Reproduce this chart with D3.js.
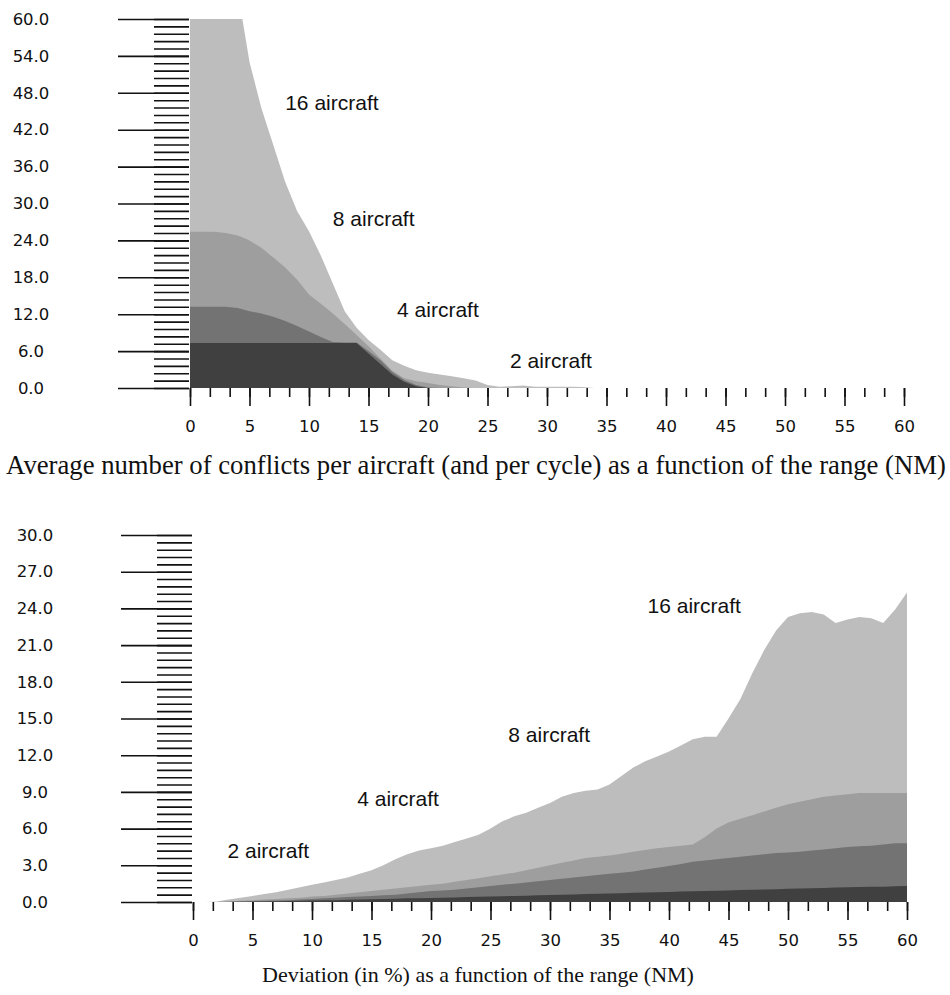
<!DOCTYPE html>
<html>
<head>
<meta charset="utf-8">
<script src="https://cdn.jsdelivr.net/npm/d3@7"></script>
<style>
  body { margin: 0; background: #fff; }
  .tick text { font-family: "DejaVu Sans", sans-serif; font-size: 16.5px; fill: #111; }
  .tick line { stroke: #111; stroke-width: 1.6; }
  .series-label { font-family: "Liberation Sans", Arial, sans-serif; font-size: 21px; fill: #111; }
  .caption { font-family: "Liberation Serif", "Times New Roman", serif; fill: #111; }
</style>
</head>
<body>
<script>
// ---- data: range (NM) on x ----
const seriesNames = ["16 aircraft", "8 aircraft", "4 aircraft", "2 aircraft"];
const fills = ["#bdbdbd", "#9e9e9e", "#737373", "#404040"];

const xTicks = [0, 5, 10, 15, 20, 25, 30, 35, 40, 45, 50, 55, 60];
const xMinorStep = 5 / 3;

// top chart: average conflicts per aircraft
const topRange = [0,1,2,3,4,4.4,5,6,7,8,9,10,11,12,13,14,15,16,17,18,19,20,21,22,23,24,25,26,27,28,29,30,31,32,33,34];
const conflicts16 = [60,60,60,60,60,60,53,45.5,39.5,33.5,28.8,25.5,21.5,17,12.5,9.8,7.8,6.2,4.5,3.6,2.9,2.5,2.2,1.9,1.6,1.2,0.5,0.2,0.3,0.4,0.2,0.2,0.2,0.2,0.15,0];
const conflicts8 = [25.4,25.4,25.4,25.2,24.8,24.5,24,22.8,21.2,19.6,17.6,15.2,13.7,12.1,10.4,8.6,6.8,4.8,2.8,1.6,1.1,0.8,0.5,0.3,0.1,0,0,0,0,0,0,0,0,0,0,0];
const conflicts4 = [13.2,13.2,13.2,13.2,13,12.8,12.5,12.1,11.6,10.9,10.1,9.2,8.3,7.5,7.4,7.4,6,4.5,2.6,1.3,0.5,0.1,0,0,0,0,0,0,0,0,0,0,0,0,0,0];
const conflicts2 = [7.3,7.3,7.3,7.3,7.3,7.3,7.3,7.3,7.3,7.3,7.3,7.3,7.3,7.3,7.3,7.3,5.6,3.9,2.2,1,0.3,0,0,0,0,0,0,0,0,0,0,0,0,0,0,0];
const topYTicks = [0, 6, 12, 18, 24, 30, 36, 42, 48, 54, 60];
const topYMinorStep = 1.2;

// bottom chart: deviation (%)
const bottomRange = d3.range(0, 61);
const deviation16 = [0,0,0.05,0.2,0.35,0.5,0.65,0.8,1,1.2,1.4,1.6,1.8,2,2.3,2.6,3,3.5,3.9,4.2,4.4,4.6,4.9,5.2,5.5,6,6.6,7,7.3,7.7,8.1,8.6,8.9,9.1,9.2,9.6,10.3,11,11.5,11.9,12.3,12.8,13.3,13.5,13.5,15,16.6,18.7,20.6,22.2,23.3,23.6,23.7,23.5,22.8,23.1,23.3,23.2,22.8,23.9,25.3];
const deviation8 = [0,0,0,0.05,0.1,0.15,0.2,0.25,0.3,0.35,0.45,0.5,0.6,0.7,0.8,0.9,1,1.1,1.2,1.3,1.4,1.5,1.65,1.8,1.95,2.1,2.25,2.4,2.6,2.8,3,3.2,3.4,3.6,3.7,3.8,3.95,4.1,4.25,4.4,4.5,4.6,4.7,5.3,6,6.5,6.8,7.1,7.4,7.7,8,8.2,8.4,8.6,8.7,8.8,8.9,8.9,8.9,8.9,8.9];
const deviation4 = [0,0,0,0.02,0.05,0.08,0.1,0.12,0.15,0.2,0.25,0.3,0.35,0.4,0.45,0.5,0.55,0.6,0.7,0.8,0.9,0.95,1,1.1,1.2,1.3,1.4,1.5,1.6,1.7,1.8,1.9,2,2.1,2.2,2.3,2.4,2.5,2.65,2.8,2.95,3.1,3.3,3.4,3.5,3.6,3.7,3.8,3.9,4,4.05,4.1,4.2,4.3,4.4,4.5,4.55,4.6,4.7,4.8,4.8];
const deviation2 = [0,0,0,0,0.02,0.03,0.05,0.06,0.08,0.1,0.12,0.14,0.15,0.18,0.2,0.22,0.25,0.27,0.3,0.3,0.32,0.35,0.37,0.4,0.42,0.45,0.47,0.5,0.52,0.55,0.57,0.6,0.62,0.65,0.67,0.7,0.72,0.75,0.78,0.8,0.82,0.85,0.88,0.9,0.92,0.95,0.98,1,1.02,1.05,1.08,1.1,1.12,1.15,1.18,1.2,1.22,1.25,1.25,1.28,1.3];
const bottomYTicks = [0, 3, 6, 9, 12, 15, 18, 21, 24, 27, 30];
const bottomYMinorStep = 0.6;

// label anchors, in data units (range NM, value)
const topLabelAt = [[8.0, 45.2], [12.0, 26.3], [17.4, 11.5], [26.9, 3.25]];
const bottomLabelAt = [[38.2, 23.6], [26.5, 13.1], [13.8, 7.85], [2.9, 3.6]];

const topCaption = "Average number of conflicts per aircraft (and per cycle) as a function of the range (NM)";
const bottomCaption = "Deviation (in %) as a function of the range (NM)";

const svg = d3.select("body").append("svg")
    .attr("width", 950)
    .attr("height", 995);

function drawPanel(cfg) {
  const x = d3.scaleLinear().domain([0, 60]).range([cfg.left, cfg.right]);
  const y = d3.scaleLinear().domain([0, cfg.yMax]).range([cfg.bottom, cfg.top]);
  const g = svg.append("g");

  // areas: tallest (lightest) behind, each drawn from zero
  const area = d3.area()
      .x((d) => x(d[0]))
      .y0(y(0))
      .y1((d) => y(d[1]));

  cfg.series.forEach((vals, i) => {
    g.append("path")
        .attr("fill", fills[i])
        .attr("d", area(cfg.range.map((r, j) => [r, vals[j]])));
  });

  // y axis: long major ticks with labels, short minor ticks
  const yAxisX = cfg.left - 1;
  const yMajor = g.append("g")
      .attr("transform", `translate(${yAxisX},0)`)
      .call(d3.axisLeft(y).tickValues(cfg.yTicks).tickSize(71).tickFormat(d3.format(".1f")));
  yMajor.select(".domain").remove();
  yMajor.selectAll(".tick text")
      .attr("x", cfg.yLabelX - yAxisX)
      .attr("text-anchor", "middle");

  const yMinor = g.append("g")
      .attr("transform", `translate(${yAxisX},0)`)
      .call(d3.axisLeft(y).tickValues(d3.range(0, cfg.yMax + 0.001, cfg.yMinorStep)).tickSize(35).tickFormat(""));
  yMinor.select(".domain").remove();

  // x axis
  const xMajor = g.append("g")
      .attr("transform", `translate(0,${cfg.bottom})`)
      .call(d3.axisBottom(x).tickValues(xTicks).tickSize(18).tickPadding(14).tickFormat(d3.format("d")));
  xMajor.select(".domain").remove();

  const xMinor = g.append("g")
      .attr("transform", `translate(0,${cfg.bottom})`)
      .call(d3.axisBottom(x).tickValues(d3.range(0, 60.001, xMinorStep)).tickSize(9).tickFormat(""));
  xMinor.select(".domain").remove();

  // series labels
  g.selectAll("text.series-label")
      .data(seriesNames)
      .join("text")
      .attr("class", "series-label")
      .attr("x", (d, i) => x(cfg.labelAt[i][0]))
      .attr("y", (d, i) => y(cfg.labelAt[i][1]))
      .text((d) => d);

  // caption
  g.append("text")
      .attr("class", "caption")
      .attr("x", cfg.captionX)
      .attr("y", cfg.captionY)
      .attr("text-anchor", "middle")
      .attr("font-size", cfg.captionSize)
      .text(cfg.caption);
}

drawPanel({
  left: 190, right: 904, top: 19, bottom: 388, yMax: 60,
  range: topRange,
  series: [conflicts16, conflicts8, conflicts4, conflicts2],
  yTicks: topYTicks, yMinorStep: topYMinorStep, yLabelX: 31,
  labelAt: topLabelAt,
  caption: topCaption, captionX: 476, captionY: 474, captionSize: 26.7
});

drawPanel({
  left: 193, right: 907, top: 535, bottom: 902, yMax: 30,
  range: bottomRange,
  series: [deviation16, deviation8, deviation4, deviation2],
  yTicks: bottomYTicks, yMinorStep: bottomYMinorStep, yLabelX: 35,
  labelAt: bottomLabelAt,
  caption: bottomCaption, captionX: 478, captionY: 982, captionSize: 22
});
</script>
</body>
</html>
